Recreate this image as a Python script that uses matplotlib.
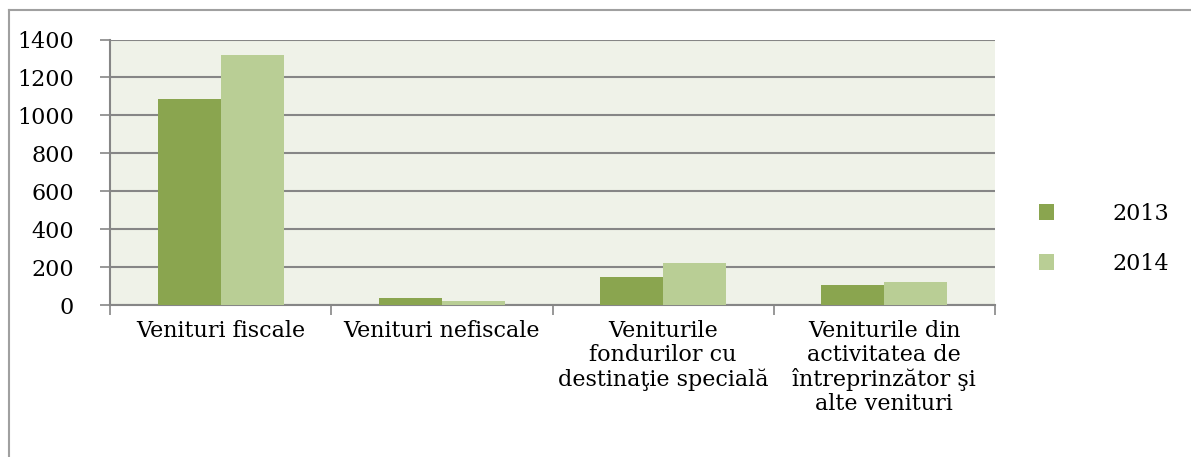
import matplotlib.pyplot as plt
import numpy as np
from matplotlib.lines import Line2D

categories = ["Venituri fiscale", "Venituri nefiscale",
              "Veniturile\nfondurilor cu\ndestinaţie specială",
              "Veniturile din\nactivitatea de\nîntreprinzător şi\nalte venituri"]
years = ["2013", "2014"]
values_2013 = [1085, 38, 146, 105]
values_2014 = [1318, 20, 221, 121]

col_2013 = "#8AA54F"
col_2014 = "#B9CE95"
grid_col = "#868686"

plt.rcParams['font.family'] = ['DejaVu Serif']

W, H = 1191, 457
fig = plt.figure(figsize=(W / 100, H / 100), dpi=100)

# outer frame (top and left edges visible)
fig.add_artist(Line2D([9 / W, 9 / W], [0, 1 - 10 / H], transform=fig.transFigure, color="#A0A0A0", lw=1.5))
fig.add_artist(Line2D([9 / W, 1], [1 - 10 / H, 1 - 10 / H], transform=fig.transFigure, color="#A0A0A0", lw=1.5))

left, right, top, bottom = 110, 995, 39.5, 305
ax = fig.add_axes([left / W, 1 - bottom / H, (right - left) / W, (bottom - top) / H])
ax.set_facecolor("#EFF2E8")

x = np.arange(len(categories))
w = 0.285
ax.bar(x - w / 2, values_2013, w, color=col_2013, label=years[0], zorder=3)
ax.bar(x + w / 2, values_2014, w, color=col_2014, label=years[1], zorder=3)

ax.set_xlim(-0.5, len(categories) - 0.5)
ax.set_ylim(0, 1400)
ax.set_yticks(range(0, 1401, 200))
ax.yaxis.grid(True, color=grid_col, lw=1.5, zorder=0)
ax.set_axisbelow(True)

for s in ["top", "right"]:
    ax.spines[s].set_visible(False)
ax.spines["left"].set_color(grid_col)
ax.spines["bottom"].set_color(grid_col)
ax.spines["left"].set_linewidth(1.5)
ax.spines["bottom"].set_linewidth(1.5)

ax.set_xticks(np.arange(-0.5, len(categories), 1.0))
ax.set_xticklabels([])
ax.set_xticks(x, minor=True)
ax.set_xticklabels(categories, minor=True, fontsize=16, linespacing=1.11, va="top")
ax.tick_params(axis="x", which="minor", length=0, pad=11)
ax.tick_params(axis="x", which="major", length=7, color=grid_col, width=1.2)
ax.tick_params(axis="y", length=7, color=grid_col, width=1.2, labelsize=16, pad=19)

leg = ax.legend(loc="center left", bbox_to_anchor=(1.027, 0.25), frameon=False,
                fontsize=16, handlelength=0.7, handleheight=0.7, handletextpad=2.6,
                labelspacing=1.25)

fig.savefig("out.png", dpi=100)
